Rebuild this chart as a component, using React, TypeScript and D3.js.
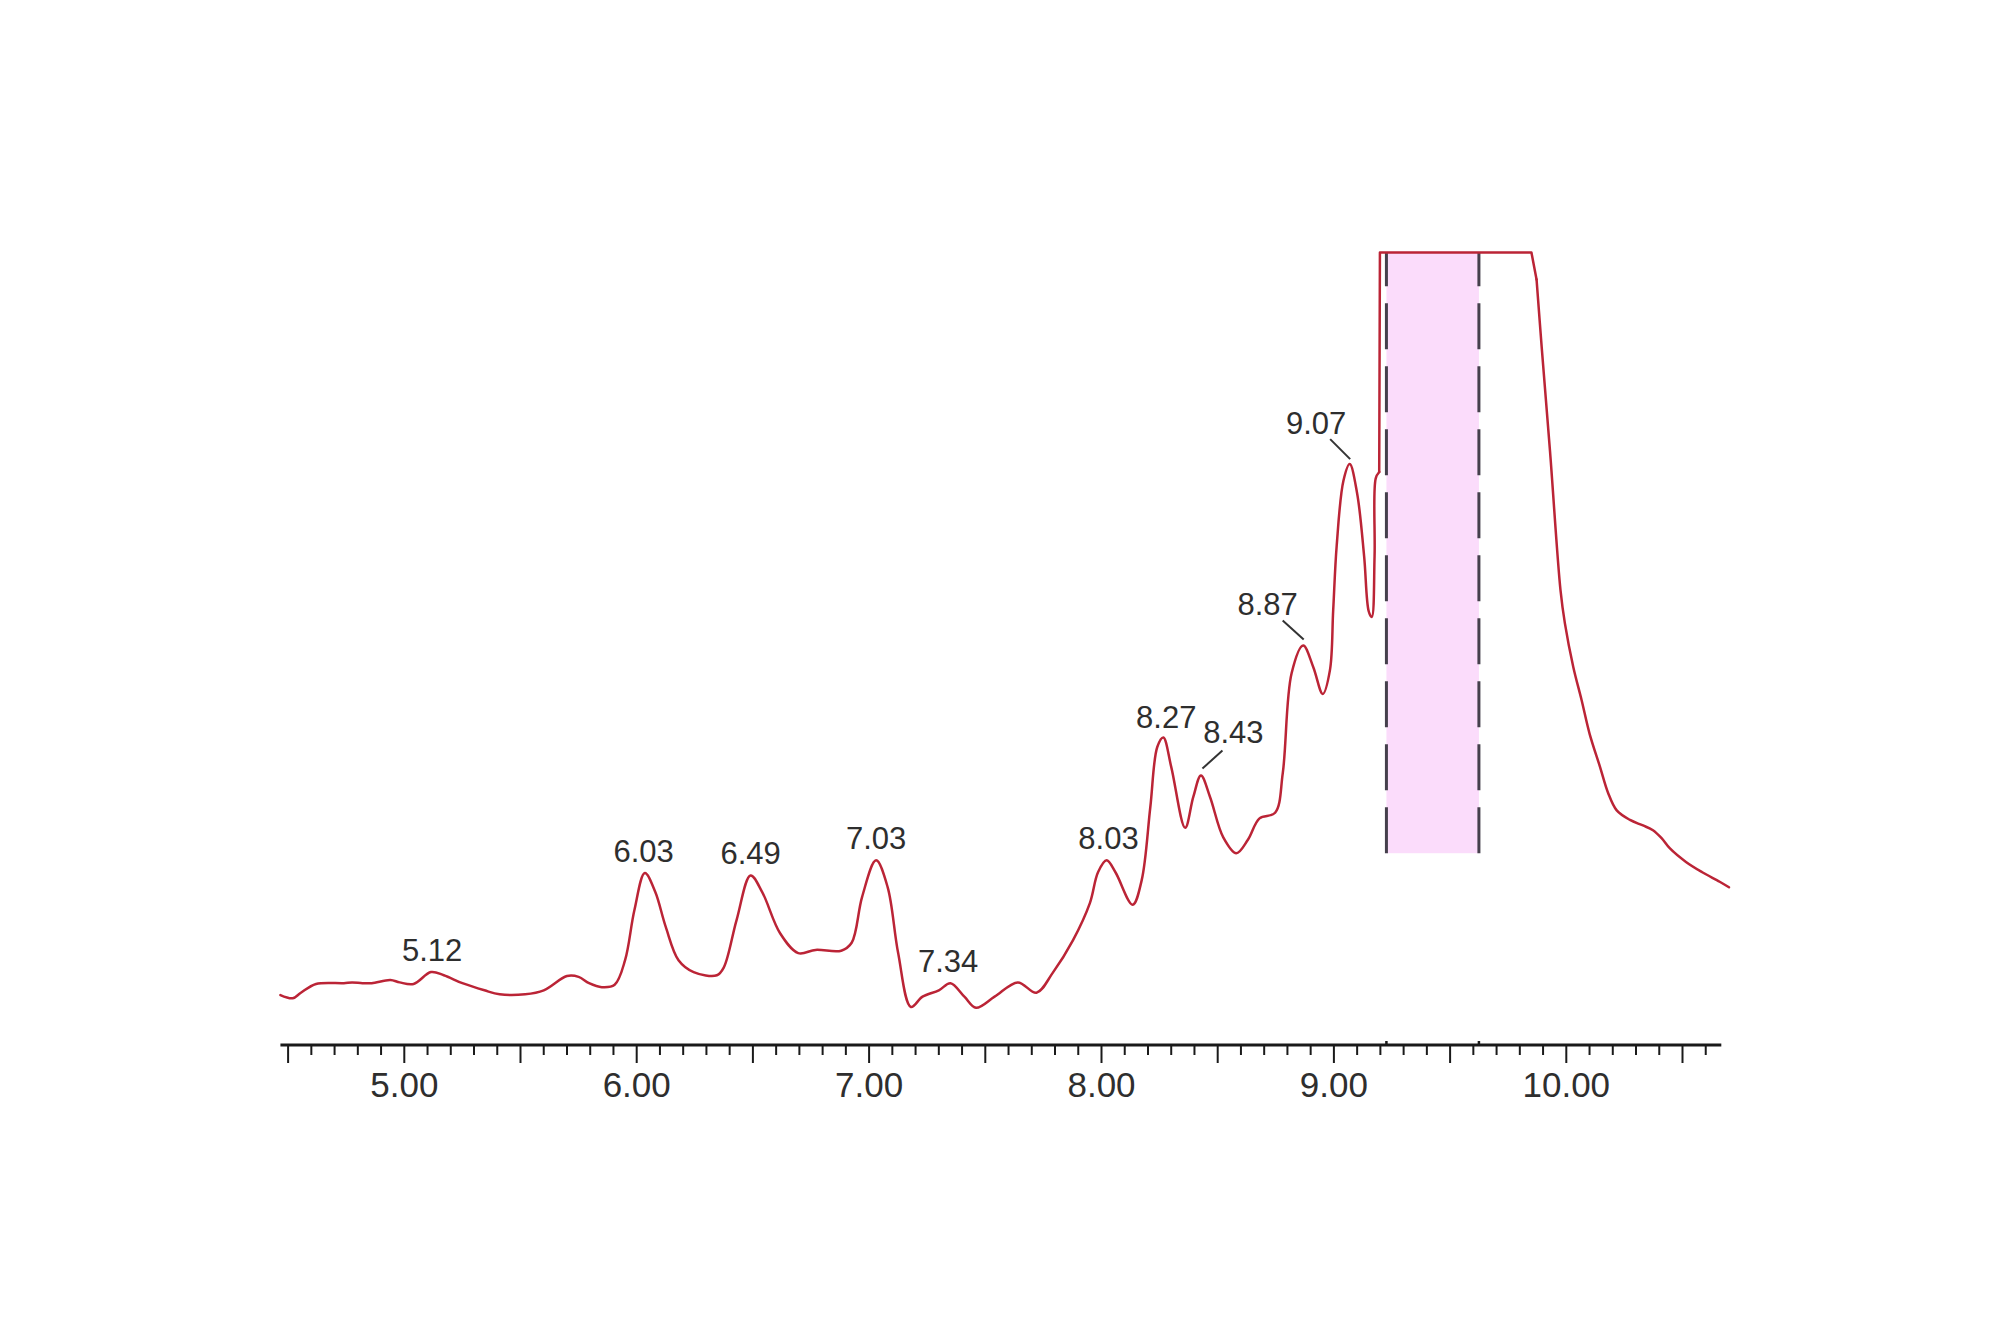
import React from "react";
import * as d3 from "d3";

// Retention time (min) and detector response (arbitrary units, 100 = saturated)
const times = [
  4.467, 4.52, 4.555, 4.62, 4.74, 4.775, 4.82, 4.86, 4.94, 4.98, 5.04, 5.115, 5.17, 5.25,
  5.345, 5.41, 5.52, 5.6, 5.7, 5.75, 5.795, 5.85, 5.905, 5.95, 5.99, 6.035, 6.08, 6.125,
  6.18, 6.245, 6.345, 6.375, 6.43, 6.49, 6.54, 6.617, 6.695, 6.77, 6.88, 6.925, 6.97, 7.03,
  7.08, 7.125, 7.18, 7.23, 7.3, 7.35, 7.41, 7.46, 7.54, 7.64, 7.72, 7.79, 7.877, 7.95,
  7.985, 8.022, 8.06, 8.134, 8.173, 8.21, 8.24, 8.266, 8.3, 8.36, 8.395, 8.428, 8.467, 8.524,
  8.58, 8.63, 8.68, 8.747, 8.78, 8.818, 8.868, 8.911, 8.952, 8.983, 8.997, 9.012, 9.041,
  9.068, 9.1, 9.13, 9.15, 9.163, 9.175, 9.18, 9.195, 9.198, 9.85, 9.872, 9.894, 9.93,
  9.975, 9.994, 10.03, 10.066, 10.1, 10.145, 10.18, 10.217, 10.274, 10.33, 10.373, 10.41,
  10.446, 10.515, 10.585, 10.66, 10.7,
];
const intensity = [
  6.3, 5.9, 6.6, 7.7, 7.8, 7.9, 7.8, 7.8, 8.2, 7.9, 7.7, 9.2, 8.8, 7.8,
  6.9, 6.4, 6.4, 6.9, 8.7, 8.6, 7.8, 7.3, 7.6, 10.7, 17.0, 21.7, 19.3, 14.9,
  10.7, 9.2, 8.8, 9.8, 15.8, 21.4, 19.3, 14.1, 11.6, 12.0, 11.9, 12.9, 18.7, 23.3,
  19.9, 11.6, 4.8, 6.1, 6.9, 7.8, 6.1, 4.7, 6.1, 7.9, 6.6, 9.1, 13.2, 17.9,
  21.8, 23.3, 21.8, 17.7, 20.8, 30.0, 37.6, 38.8, 35.1, 27.4, 31.3, 34.0, 31.3, 26.2,
  24.2, 25.9, 28.6, 29.3, 34.3, 46.9, 50.4, 47.7, 44.3, 47.3, 54.9, 63.0, 71.2,
  73.3, 69.6, 61.7, 54.7, 54.0, 61.7, 71.5, 72.3, 100, 100, 96.6, 88.1, 74.9,
  57.4, 53.2, 47.7, 43.5, 39.3, 35.1, 31.8, 29.6, 28.4, 27.7, 27.1, 26.1,
  24.8, 23.1, 21.8, 20.6, 19.9,
];

const peakLabels = ["5.12", "6.03", "6.49", "7.03", "7.34", "8.03", "8.27", "8.43", "8.87", "9.07"];
const axisLabels = ["5.00", "6.00", "7.00", "8.00", "9.00", "10.00"];
const axisRange = [4.467, 10.667];
const tickStart = 4.5;
const tickEnd = 10.6;
const cutWindow = [9.226, 9.624];
const cutFloor = 24.2;
const saturation = 100;

// label placement (pixels, relative to the peak apex)
const labelLayout: Record<string, { dx: number; dy: number; leader?: [number, number, number, number] }> = {
  "8.27": { dx: 2, dy: -10 },
  "8.43": { dx: 32, dy: -33, leader: [21, -25, 1, -7] },
  "8.87": { dx: -36, dy: -31, leader: [-21, -25, 0, -6] },
  "9.07": { dx: -34, dy: -30, leader: [-20, -25, 0, -5] },
};

export default function App() {
  const W = 2000;
  const H = 1333;
  const x = d3.scaleLinear().domain([5, 10]).range([404.3, 1566.3]);
  const y = d3.scaleLinear().domain([0, saturation]).range([1045, 252.5]);
  const axisY = y(0);

  const pts = times.map((t, i) => [t, intensity[i]] as [number, number]);
  const smooth = d3
    .line<[number, number]>()
    .x((d) => x(d[0]))
    .y((d) => y(d[1]))
    .curve(d3.curveCatmullRom.alpha(0.5));
  const straight = d3
    .line<[number, number]>()
    .x((d) => x(d[0]))
    .y((d) => y(d[1]));

  const firstSat = pts.findIndex((p) => p[1] >= saturation);
  let lastSat = firstSat;
  while (lastSat + 1 < pts.length && pts[lastSat + 1][1] >= saturation) lastSat++;
  const segA = pts.slice(0, firstSat);
  const segB = pts.slice(firstSat - 1, lastSat + 2);
  const segC = pts.slice(lastSat + 1);

  const ticks = d3.range(Math.round(tickStart * 10), Math.round(tickEnd * 10) + 1).map((v) => v / 10);

  const peakApex = (t: number) => {
    const near = pts.filter((p) => Math.abs(p[0] - t) <= 0.04);
    return d3.max(near, (p) => p[1]) ?? 0;
  };

  const font = "'Liberation Sans', Arial, sans-serif";
  const textColor = "#2e2e2e";
  const traceColor = "#bb2436";

  return (
    <svg
      width={W}
      height={H}
      style={{ position: "absolute", left: 0, top: 0, background: "#ffffff" }}
    >
      <rect x={0} y={0} width={W} height={H} fill="#ffffff" />
      {/* cut window */}
      <rect
        x={x(cutWindow[0])}
        y={y(saturation)}
        width={x(cutWindow[1]) - x(cutWindow[0])}
        height={y(cutFloor) - y(saturation)}
        fill="#fbdcfb"
      />
      {cutWindow.map((c, i) => (
        <path
          key={"dash" + i}
          d={`M${x(c)},${y(cutFloor)}L${x(c)},${y(saturation)}`}
          stroke="#45404c"
          strokeWidth={3}
          strokeDasharray="46 17"
          fill="none"
        />
      ))}
      {/* trace */}
      <g fill="none" stroke={traceColor} strokeWidth={2.5} strokeLinejoin="round" strokeLinecap="round">
        <path d={smooth(segA) ?? ""} />
        <path d={straight(segB) ?? ""} />
        <path d={smooth(segC) ?? ""} />
      </g>
      {/* axis */}
      <line x1={x(axisRange[0])} x2={x(axisRange[1])} y1={axisY} y2={axisY} stroke="#1a1a1a" strokeWidth={3.2} />
      {ticks.map((t, i) => {
        const long = Math.round(t * 10) % 5 === 0;
        return (
          <line
            key={"t" + i}
            x1={x(t)}
            x2={x(t)}
            y1={axisY}
            y2={axisY + (long ? 18 : 10)}
            stroke="#1a1a1a"
            strokeWidth={2}
          />
        );
      })}
      {cutWindow.map((c, i) => (
        <line key={"cm" + i} x1={x(c)} x2={x(c)} y1={axisY} y2={axisY - 4} stroke="#1a1a1a" strokeWidth={2.5} />
      ))}
      {axisLabels.map((l) => (
        <text
          key={l}
          x={x(parseFloat(l))}
          y={axisY + 52}
          textAnchor="middle"
          fontFamily={font}
          fontSize={35}
          fill={textColor}
        >
          {l}
        </text>
      ))}
      {/* peak labels */}
      {peakLabels.map((l) => {
        const t = parseFloat(l);
        const px = x(t);
        const py = y(peakApex(t));
        const lay = labelLayout[l] ?? { dx: 0, dy: -11 };
        return (
          <g key={l}>
            {lay.leader && (
              <line
                x1={px + lay.leader[0]}
                y1={py + lay.leader[1]}
                x2={px + lay.leader[2]}
                y2={py + lay.leader[3]}
                stroke="#333"
                strokeWidth={2}
              />
            )}
            <text
              x={px + lay.dx}
              y={py + lay.dy}
              textAnchor="middle"
              fontFamily={font}
              fontSize={31}
              fill={textColor}
            >
              {l}
            </text>
          </g>
        );
      })}
    </svg>
  );
}
